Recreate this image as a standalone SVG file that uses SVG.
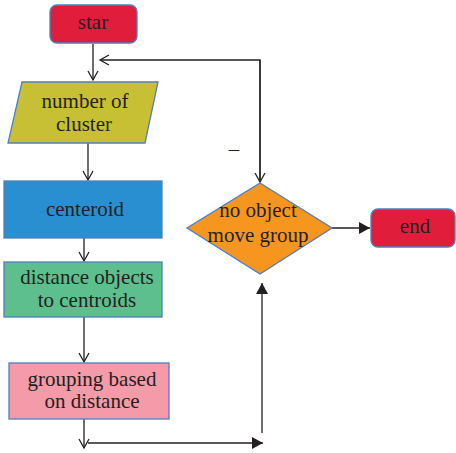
<svg xmlns="http://www.w3.org/2000/svg" width="456" height="453" viewBox="0 0 456 453">
<style>
.n{stroke:#4f7fbf;stroke-width:1.3}
.c{stroke:#231f20;stroke-width:1.3;fill:none}
.t{font-size:21px;fill:#231f20;text-anchor:middle}
</style>
<defs>
<marker id="open" markerWidth="12" markerHeight="12" refX="10" refY="6" orient="auto" markerUnits="userSpaceOnUse">
<path d="M1,1 L10,6 L1,11" fill="none" stroke="#231f20" stroke-width="1.3"/>
</marker>
<marker id="fill" markerWidth="12" markerHeight="12" refX="11" refY="6" orient="auto" markerUnits="userSpaceOnUse">
<path d="M0,0 L11,6 L0,12 Z" fill="#231f20"/>
</marker>
</defs>
<rect width="456" height="453" fill="#fff"/>
<g id="connectors">
<line class="c" x1="93" y1="44" x2="93" y2="80" marker-end="url(#open)"/>
<polyline class="c" points="260,180 260,60 100,60" marker-end="url(#open)"/>
<line class="c" x1="260" y1="60" x2="260" y2="182" marker-end="url(#open)"/>
<line class="c" x1="88" y1="143" x2="88" y2="180" marker-end="url(#open)"/>
<line class="c" x1="84" y1="238" x2="84" y2="261" marker-end="url(#open)"/>
<line class="c" x1="84" y1="317" x2="84" y2="362" marker-end="url(#open)"/>
<line class="c" x1="84" y1="419" x2="84" y2="448" marker-end="url(#open)"/>
<line class="c" x1="88" y1="443" x2="263" y2="443" marker-end="url(#fill)"/>
<line class="c" x1="262" y1="433" x2="262" y2="283" marker-end="url(#fill)"/>
<line class="c" x1="332" y1="228" x2="370" y2="228" marker-end="url(#fill)"/>
<text class="t" x="234" y="156" font-family="Liberation Serif, serif">–</text>
</g>
<g id="star">
<rect class="n" x="50" y="5" width="87" height="38" rx="7" fill="#e01e3c"/>
<text class="t" x="93" y="29" font-family="Liberation Serif, serif">star</text>
</g>
<g id="number">
<polygon class="n" points="22,82 158,82 145,143 8,143" fill="#c8c034"/>
<text class="t" x="85" y="108" font-family="Liberation Serif, serif">number of</text>
<text class="t" x="84" y="131" font-family="Liberation Serif, serif">cluster</text>
</g>
<g id="centeroid">
<rect class="n" x="4" y="181" width="158" height="57" fill="#2a8fd0"/>
<text class="t" x="85" y="216" font-family="Liberation Serif, serif">centeroid</text>
</g>
<g id="distance">
<rect class="n" x="4" y="262" width="158" height="55" fill="#5dbf8e"/>
<text class="t" x="87" y="284" font-family="Liberation Serif, serif">distance objects</text>
<text class="t" x="87" y="307" font-family="Liberation Serif, serif">to centroids</text>
</g>
<g id="grouping">
<rect class="n" x="9" y="363" width="160" height="56" fill="#f49aa8"/>
<text class="t" x="92" y="386" font-family="Liberation Serif, serif">grouping based</text>
<text class="t" x="92" y="408" font-family="Liberation Serif, serif">on distance</text>
</g>
<g id="decision">
<polygon class="n" points="260,183 332,228 260,274 187,228" fill="#f7961e"/>
<text class="t" x="258" y="217" font-family="Liberation Serif, serif">no object</text>
<text class="t" x="258" y="242" font-family="Liberation Serif, serif">move group</text>
</g>
<g id="end">
<rect class="n" x="371" y="209" width="84" height="38" rx="7" fill="#e01e3c"/>
<text class="t" x="415" y="233" font-family="Liberation Serif, serif">end</text>
</g>
</svg>
